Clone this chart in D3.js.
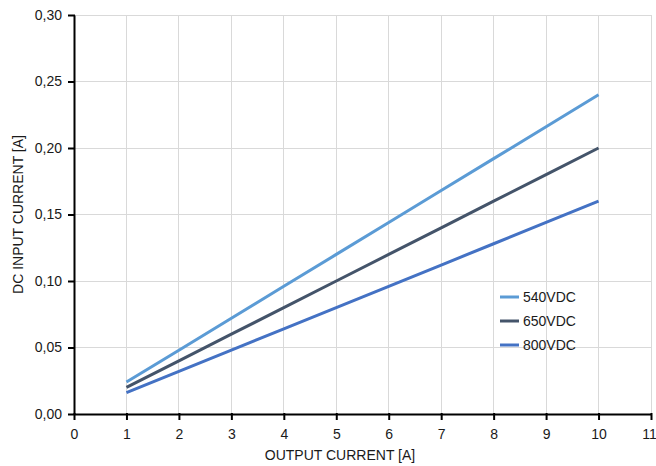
<!DOCTYPE html>
<html><head><meta charset="utf-8">
<script src="https://cdn.jsdelivr.net/npm/d3@7/dist/d3.min.js"></script>
<style>
body{margin:0;background:#fff;}
text{font-family:"Liberation Sans",Arial,sans-serif;fill:#1a1a1a;}
</style></head>
<body>
<svg id="c" width="656" height="466"></svg>
<script>
const outputCurrent = [1,2,3,4,5,6,7,8,9,10];
const v540 = [0.024,0.048,0.072,0.096,0.120,0.144,0.168,0.192,0.216,0.240];
const v650 = [0.020,0.040,0.060,0.080,0.100,0.120,0.140,0.160,0.180,0.200];
const v800 = [0.016,0.032,0.048,0.064,0.080,0.096,0.112,0.128,0.144,0.160];
const seriesNames = ["540VDC","650VDC","800VDC"];
const seriesColors = ["#5b9bd5","#44546a","#4472c4"];
const xTicks = [0,1,2,3,4,5,6,7,8,9,10,11];
const yTicks = [0,0.05,0.10,0.15,0.20,0.25,0.30];

const svg = d3.select("#c");
const m = {l:74, t:15, r:5, b:52};
const W = 656, H = 466;
const x = d3.scaleLinear().domain([0,11]).range([m.l, W-m.r]);
const y = d3.scaleLinear().domain([0,0.30]).range([H-m.b, m.t]);
const fmt = d => d3.format(".2f")(d).replace(".", ",");

// grid
svg.append("g").selectAll("line").data(xTicks.filter(d=>d>0)).join("line")
  .attr("x1",d=>x(d)).attr("x2",d=>x(d)).attr("y1",y(0)).attr("y2",y(0.30))
  .attr("stroke","#d9d9d9").attr("stroke-width",1).attr("shape-rendering","crispEdges");
svg.append("g").selectAll("line").data(yTicks.filter(d=>d>0)).join("line")
  .attr("x1",x(0)).attr("x2",x(11)).attr("y1",d=>y(d)).attr("y2",d=>y(d))
  .attr("stroke","#d9d9d9").attr("stroke-width",1).attr("shape-rendering","crispEdges");

// axes
const xAxis = svg.append("g").attr("transform",`translate(0,${y(0)})`)
  .call(d3.axisBottom(x).tickValues(xTicks).tickFormat(d3.format("d")).tickSize(6).tickSizeOuter(0).tickPadding(9));
const yAxis = svg.append("g").attr("transform",`translate(${x(0)},0)`)
  .call(d3.axisLeft(y).tickValues(yTicks).tickFormat(fmt).tickSize(6).tickSizeOuter(0).tickPadding(6));
[xAxis,yAxis].forEach(a=>{
  a.select(".domain").attr("stroke","#000").attr("stroke-width",2);
  a.selectAll(".tick line").attr("stroke","#000").attr("stroke-width",2);
  a.selectAll(".tick text").attr("font-size",14).attr("font-family","Liberation Sans, Arial, sans-serif").attr("fill","#1a1a1a");
});
xAxis.selectAll(".tick line").attr("y1",-1).attr("y2",6);
yAxis.selectAll(".tick line").attr("x1",1).attr("x2",-6);
xAxis.selectAll(".tick text").filter(d=>d===11).attr("dx",-2);

// lines
const all = [v540,v650,v800];
const line = d3.line().x((d,i)=>x(outputCurrent[i])).y(d=>y(d));
all.forEach((vals,k)=>{
  svg.append("path").datum(vals).attr("d",line).attr("fill","none")
    .attr("stroke",seriesColors[k]).attr("stroke-width",3);
});

// legend
const lg = svg.append("g").attr("transform","translate(500,297)");
seriesNames.forEach((n,k)=>{
  const g = lg.append("g").attr("transform",`translate(0,${k*24})`);
  g.append("line").attr("x1",0).attr("x2",19).attr("stroke",seriesColors[k]).attr("stroke-width",3);
  g.append("text").attr("x",23).attr("y",5).attr("font-size",14).text(n);
});

// titles
svg.append("text").attr("x",340).attr("y",460).attr("text-anchor","middle")
  .attr("font-size",14).text("OUTPUT CURRENT [A]");
svg.append("text").attr("transform",`translate(23,${(y(0)+y(0.30))/2}) rotate(-90)`)
  .attr("text-anchor","middle").attr("font-size",14).text("DC INPUT CURRENT [A]");
</script>
</body></html>
